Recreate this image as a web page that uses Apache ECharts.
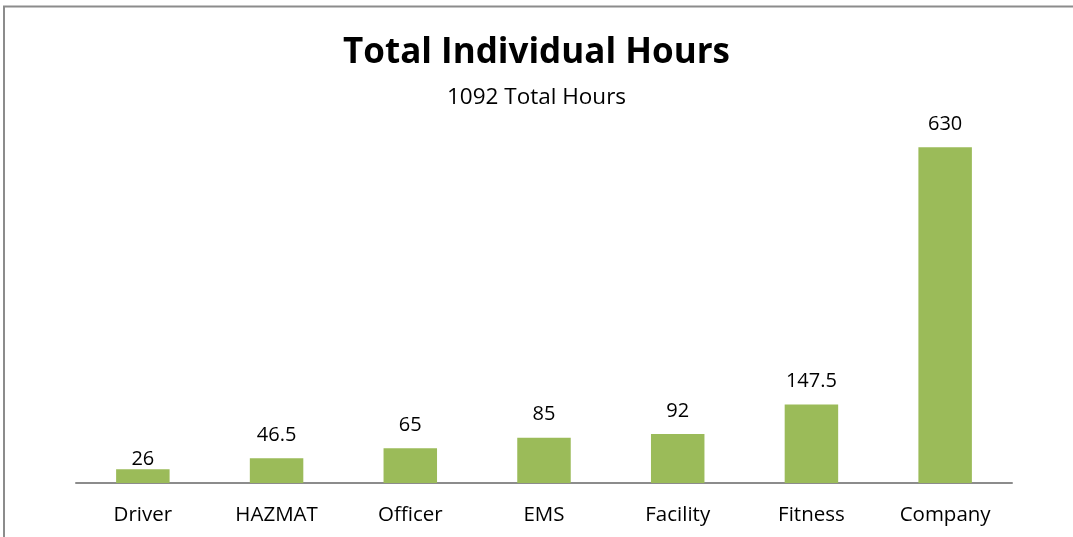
<!DOCTYPE html>
<html>
<head>
<meta charset="utf-8">
<script src="https://cdn.jsdelivr.net/npm/echarts@6/dist/echarts.min.js"></script>
<style>
html,body{margin:0;padding:0;background:#fff;}
#chart{width:1073px;height:537px;}
</style>
</head>
<body>
<div id="chart"></div>
<script>
const categories = ['Driver','HAZMAT','Officer','EMS','Facility','Fitness','Company'];
const hours = [26, 46.5, 65, 85, 92, 147.5, 630];
const titleText = 'Total Individual Hours';
const subtitleText = '1092 Total Hours';

const chart = echarts.init(document.getElementById('chart'), null, {renderer:'canvas'});
const font = '"Open Sans", Lato, sans-serif';
const barData = hours.map((v, i) => i === 0 ? {value: v, label: {distance: 0}} : v);
chart.setOption({
  animation: false,
  graphic: [{
    type: 'rect',
    shape: {x: 4, y: 6.5, width: 1200, height: 700},
    style: {fill: 'none', stroke: '#8c8c8c', lineWidth: 2},
    z: -1
  }],
  title: {
    text: titleText,
    subtext: subtitleText,
    left: 'center',
    top: 31,
    itemGap: 15,
    textStyle: {fontFamily: font, fontWeight: 'bold', fontSize: 35, color: '#000'},
    subtextStyle: {fontFamily: font, fontSize: 22.5, color: '#000'}
  },
  grid: {left: 76, right: 61, top: 110, bottom: 54},
  xAxis: {
    type: 'category',
    data: categories,
    axisLine: {lineStyle: {color: '#8c8c8c', width: 2}},
    axisTick: {show: false},
    axisLabel: {fontFamily: font, fontSize: 20.5, color: '#000', margin: 22}
  },
  yAxis: {
    type: 'value',
    min: 0, max: 700,
    show: false,
    splitLine: {show: false}
  },
  series: [{
    type: 'bar',
    data: barData,
    barWidth: '40%',
    itemStyle: {color: '#9bbb59'},
    label: {show: true, position: 'top', distance: 13, fontFamily: font, fontSize: 20, color: '#000'}
  }]
});
</script>
</body>
</html>
